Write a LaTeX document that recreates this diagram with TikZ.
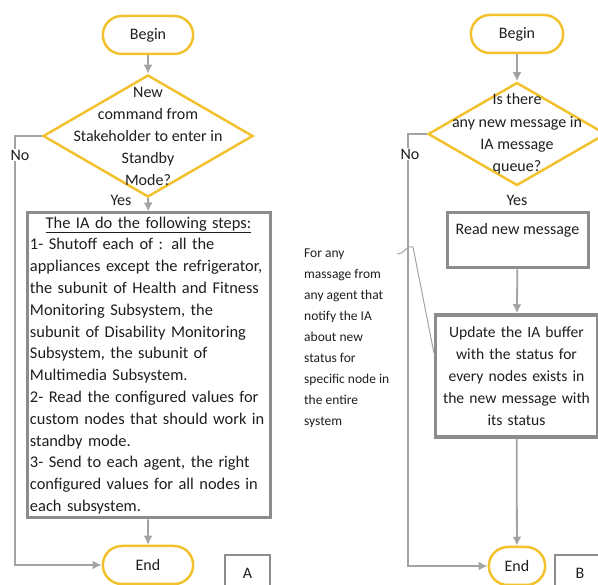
\documentclass[tikz,border=0pt]{standalone}
\usepackage{fontspec}
\setmainfont{Carlito}
\usepackage{tikz}
\usetikzlibrary{shapes,arrows,arrows.meta,positioning}
\definecolor{termyellow}{HTML}{F2C12E}
\definecolor{linegray}{HTML}{A3A3A3}
\definecolor{boxgray}{HTML}{8C8C8C}
\definecolor{inkgray}{HTML}{1E1E1E}

\begin{document}
\begin{tikzpicture}[x=1pt, y=-1pt, text=inkgray,
        terminal/.style={rounded rectangle, draw=termyellow, line width=2.5pt, minimum height=38pt, font=\fontsize{16}{19}\selectfont},
        decision/.style={diamond, draw=termyellow, line width=2.5pt, inner sep=0pt},
        process/.style={rectangle, draw=boxgray, line width=3pt},
        tagbox/.style={rectangle, draw=boxgray, line width=2.5pt, minimum height=36pt, font=\fontsize{16}{19}\selectfont},
        label/.style={fill=white, inner sep=1pt, font=\fontsize{16}{19}\selectfont},
        line/.style={draw=linegray, line width=1.8pt, -{Latex[length=9pt, width=9pt]}}
    ]
        \useasboundingbox (0,0) rectangle (598,585);
        % Flowchart A
        \node[terminal, minimum width=97pt] (beginA) at (148,35) {Begin};
        \node[decision, minimum width=210pt, minimum height=122pt] (decA) at (148,136) {};
        \node[align=center, font=\fontsize{16}{22}\selectfont] (decAtext) at (decA) {New\\command from\\Stakeholder to enter in\\Standby\\Mode?};
        \node[process, minimum width=243pt, minimum height=305pt, inner sep=3pt, text width=237pt, align=left, font=\fontsize{16.4}{21.8}\selectfont] (stepsA) at (148.5,365.5)
            {\makebox[237pt]{\underline{The IA do the following steps:}}\\
            1- Shutoff each of : all the\\
            appliances except the refrigerator,\\
            the subunit of Health and Fitness\\
            Monitoring Subsystem, the\\
            subunit of Disability Monitoring\\
            Subsystem, the subunit of\\
            Multimedia Subsystem.\\
            2- Read the configured values for\\
            custom nodes that should work in\\
            standby mode.\\
            3- Send to each agent, the right\\
            configured values for all nodes in\\
            each subsystem.};
        \node[terminal, minimum width=97pt] (endA) at (148,565) {End};
        \node[tagbox, minimum width=45pt] (tagA) at (247.5,573) {A};
        \node[label] (noA) at (20,155) {No};
        \node[label, fill=none] (yesA) at (121,200) {Yes};
        \coordinate (cornerA) at (15,136);
        % Connections A
        \path[line] (beginA) -- (decA);
        \path[line] (decA) -- (stepsA);
        \path[line] (stepsA) -- (endA);
        \path[line] (decA.west) -- (cornerA) |- (endA.west);
        \node[label] at (noA) {No};
        % Flowchart B
        \node[terminal, minimum width=99pt] (beginB) at (517,34) {Begin};
        \node[decision, minimum width=178pt, minimum height=103pt] (decB) at (517,134) {};
        \node[align=center, font=\fontsize{16}{22.3}\selectfont] (decBtext) at (decB) {Is there\\any new message in\\IA message\\queue?};
        \node[process, minimum width=141pt, minimum height=55pt] (readB) at (517.5,240.5) {};
        \node[label, fill=none, anchor=north] (readBtext) at ([yshift=-11pt]readB.north) {Read new message};
        \node[process, line width=3.5pt, minimum width=161pt, minimum height=122pt, text width=155pt, align=center, font=\fontsize{15.6}{22}\selectfont] (updateB) at (516.5,376)
            {Update the IA buffer\\with the status for\\every nodes exists in\\the new message with\\its status};
        \node[terminal, minimum width=63pt] (endB) at (517,566) {End};
        \node[tagbox, minimum width=50pt] (tagB) at (580,573) {B};
        \node[label] (noB) at (410,154) {No};
        \node[label, fill=none] (yesB) at (517,200) {Yes};
        \coordinate (cornerB) at (408,134);
        % Connections B
        \path[line] (beginB) -- (decB);
        \path[line] (readB) -- (updateB);
        \path[line] (updateB) -- (endB);
        \path[line] (decB.west) -- (cornerB) |- (endB.west);
        \node[label] at (noB) {No};
        % Note
        \node[anchor=north west, align=left, inner sep=0pt, font=\fontsize{13.5}{21}\selectfont] (note) at (304,249)
            {For any\\massage from\\any agent that\\notify the IA\\about new\\status for\\specific node in\\the entire\\system};
        \coordinate (callstart) at (397,254);
        \draw[draw=linegray, line width=1pt] (callstart) .. controls (405,254) and (407,244) .. (413,247) -- ([yshift=23pt]updateB.west);
    \end{tikzpicture}
\end{document}
